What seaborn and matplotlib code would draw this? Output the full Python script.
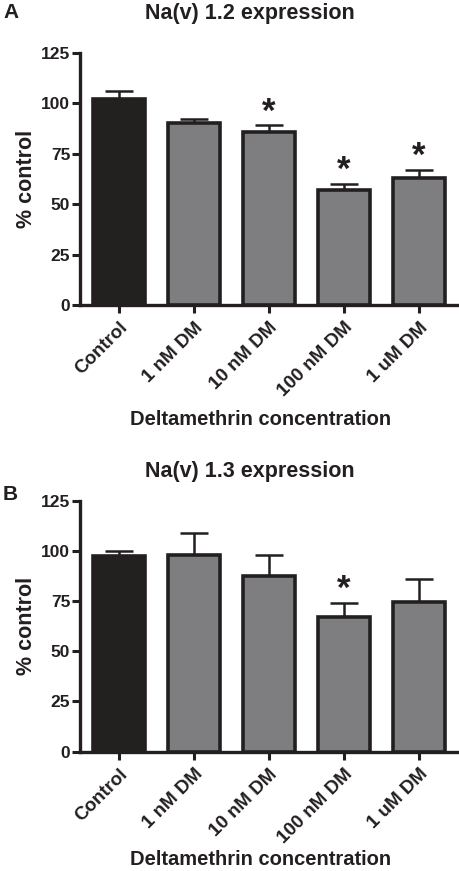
import matplotlib
matplotlib.use("Agg")
import matplotlib.pyplot as plt
import seaborn as sns
import pandas as pd

# values (% control, mean and upper SEM)
groups = ["Control", "1 nM DM", "10 nM DM", "100 nM DM", "1 uM DM"]
nav12_mean = [102.2, 90.3, 85.8, 57.3, 62.9]
nav12_sem = [4.0, 2.0, 3.3, 2.6, 4.3]
nav12_sig = [False, False, True, True, True]
nav13_mean = [97.6, 97.8, 87.4, 67.1, 74.4]
nav13_sem = [2.2, 11.2, 10.4, 6.8, 11.8]
nav13_sig = [False, False, False, True, False]

ink = "#231f20"
bar_colors = ["#231f20", "#7d7e81", "#7d7e81", "#7d7e81", "#7d7e81"]

sns.set_style("ticks")
plt.rcParams["font.family"] = ["Liberation Sans", "DejaVu Sans"]
plt.rcParams["font.weight"] = "bold"
plt.rcParams["text.color"] = ink
plt.rcParams["axes.labelcolor"] = ink
plt.rcParams["xtick.color"] = ink
plt.rcParams["ytick.color"] = ink

fig = plt.figure(figsize=(4.59, 8.71), dpi=100)
ax_a = fig.add_axes([0.1743, 0.6498, 0.8214, 0.2893])
ax_b = fig.add_axes([0.1743, 0.1370, 0.8214, 0.2882])


def draw_panel(ax, means, sems, sig, xlab_y):
    df = pd.DataFrame({"group": groups, "value": means})
    sns.barplot(data=df, x="group", y="value", hue="group", palette=bar_colors,
                legend=False, errorbar=None, width=0.69, edgecolor=ink,
                linewidth=2.6, ax=ax, zorder=3)
    ax.errorbar(range(len(groups)), means, yerr=[[0] * len(sems), sems],
                fmt="none", ecolor=ink, elinewidth=1.8, capsize=10,
                capthick=1.8, zorder=2)
    for i, s in enumerate(sig):
        if s:
            ax.text(i, means[i] + sems[i] - 1.5, "*", ha="center", va="bottom",
                    fontsize=25, fontweight="bold", color=ink)
    ax.set_ylim(0, 125)
    ax.set_xlim(-0.52, 4.51)
    ax.set_yticks([0, 25, 50, 75, 100, 125])
    ax.set_ylabel("% control", fontsize=15.5, fontweight="bold", labelpad=3)
    ax.set_xlabel("Deltamethrin concentration", fontsize=14.5,
                  fontweight="bold")
    ax.xaxis.set_label_coords(0.48, xlab_y)
    ax.tick_params(axis="y", width=2.2, length=6, labelsize=12.5, pad=1)
    ax.tick_params(axis="x", width=2.2, length=6, labelsize=13.5, pad=4)
    ax.set_xticks(range(len(groups)))
    ax.set_xticklabels(groups, rotation=45, ha="right", rotation_mode="anchor",
                       fontweight="bold")
    for lab in ax.get_yticklabels():
        lab.set_fontweight("bold")
    sns.despine(ax=ax)
    for sp in ["left", "bottom"]:
        ax.spines[sp].set_linewidth(2.4)
        ax.spines[sp].set_color(ink)


draw_panel(ax_a, nav12_mean, nav12_sem, nav12_sig, -0.418)
draw_panel(ax_b, nav13_mean, nav13_sem, nav13_sig, -0.392)

fig.text(250 / 459, 1 - 14 / 871, "Na(v) 1.2 expression", ha="center",
         va="center", fontsize=15.5, fontweight="bold")
fig.text(250 / 459, 1 - 471 / 871, "Na(v) 1.3 expression", ha="center",
         va="center", fontsize=15.5, fontweight="bold")
fig.text(3 / 459, 1 - 13 / 871, "A", ha="left", va="center", fontsize=15,
         fontweight="bold")
fig.text(3 / 459, 1 - 495 / 871, "B", ha="left", va="center", fontsize=15,
         fontweight="bold")

fig.savefig("out.png", dpi=100)
